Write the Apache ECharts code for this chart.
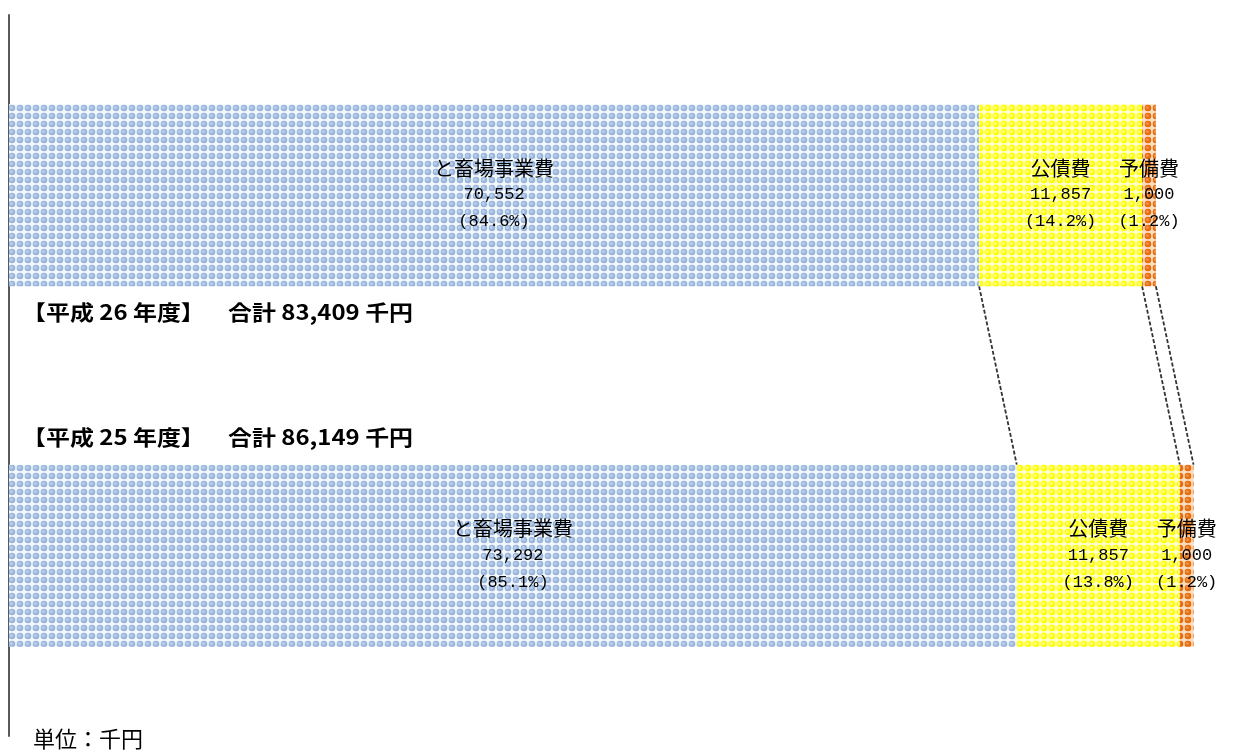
<!DOCTYPE html>
<html>
<head>
<meta charset="utf-8">
<script src="https://cdn.jsdelivr.net/npm/echarts@6/dist/echarts.min.js"></script>
<style>
html,body{margin:0;padding:0;background:#fff;}
#main{width:1241px;height:752px;}
</style>
</head>
<body>
<div id="main"></div>
<script>
// ---- data ----
var categories = ['平成 25 年度', '平成 26 年度'];
var seriesNames = ['と畜場事業費', '公債費', '予備費'];
var tochikuValues = [73292, 70552];
var kousaiValues = [11857, 11857];
var yobiValues = [1000, 1000];
var unitText = '単位：千円';

var allValues = [tochikuValues, kousaiValues, yobiValues];
var totals = categories.map(function (_, i) {
  return allValues.reduce(function (s, arr) { return s + arr[i]; }, 0);
});

function fmt(n) { return n.toString().replace(/\B(?=(\d{3})+(?!\d))/g, ','); }

function tile(bg, c1, c2) {
  var cv = document.createElement('canvas');
  cv.width = 8; cv.height = 8;
  var g = cv.getContext('2d');
  g.fillStyle = bg; g.fillRect(0, 0, 8, 8);
  g.fillStyle = c1; g.beginPath(); g.arc(4, 4, 3.3, 0, 2 * Math.PI); g.fill();
  g.fillStyle = c2; g.beginPath(); g.arc(3.4, 3.4, 1.5, 0, 2 * Math.PI); g.fill();
  return cv;
}
var patterns = [
  { image: tile('#f3f7fc', '#9ab6dc', '#bcd0ea'), repeat: 'repeat' },
  { image: tile('#ffffc8', '#ffff00', '#ffff80'), repeat: 'repeat' },
  { image: tile('#fcdcc0', '#e46c0a', '#f0924a'), repeat: 'repeat' }
];

var BAR_W = 182;
var cjkFont = "'Noto Sans CJK JP', sans-serif";
var numFont = "'Liberation Mono', monospace";

var barSeries = allValues.map(function (vals, si) {
  return {
    type: 'bar',
    name: seriesNames[si],
    stack: 'total',
    barWidth: BAR_W,
    data: vals,
    itemStyle: { color: patterns[si] },
    label: {
      show: true,
      position: 'inside',
      color: '#000',
      textBorderWidth: 0,
      align: 'center',
      formatter: function (p) {
        var pct = (p.value / totals[p.dataIndex] * 100).toFixed(1);
        return '{n|' + p.seriesName + '}\n{v|' + fmt(p.value) + '}\n{v|(' + pct + '%)}';
      },
      rich: {
        n: { fontFamily: cjkFont, fontSize: 20, lineHeight: 26, color: '#000', align: 'center' },
        v: { fontFamily: numFont, fontSize: 17, lineHeight: 27, color: '#000', align: 'center' }
      }
    }
  };
});

// cumulative boundaries for connecting lines: [top bar (H26), bottom bar (H25)]
var lineData = [];
var c25 = 0, c26 = 0;
allValues.forEach(function (arr) {
  c25 += arr[0]; c26 += arr[1];
  lineData.push([c26, c25, 0]);
});

var connectSeries = {
  type: 'custom',
  encode: { x: [0, 1], y: 2 },
  data: lineData,
  silent: true,
  z: 1,
  renderItem: function (params, api) {
    var pTop = api.coord([api.value(0), 1]);
    var pBot = api.coord([api.value(1), 0]);
    return {
      type: 'line',
      shape: { x1: pTop[0], y1: pTop[1] + BAR_W / 2, x2: pBot[0], y2: pBot[1] - BAR_W / 2 },
      style: { stroke: '#333', lineWidth: 1.8, lineDash: [4, 2] }
    };
  }
};

var titleFont = 'bold 21px ' + cjkFont;
var chart = echarts.init(document.getElementById('main'), null, { renderer: 'canvas' });
chart.setOption({
  animation: false,
  grid: { left: 9, top: 15, bottom: 16, right: 0, containLabel: false },
  xAxis: { type: 'value', min: 0, max: 89600, show: false },
  yAxis: {
    type: 'category',
    data: categories,
    axisLine: { show: true, lineStyle: { color: '#595959', width: 2 } },
    axisTick: { show: false },
    axisLabel: { show: false },
    splitLine: { show: false }
  },
  series: barSeries.concat([connectSeries]),
  graphic: [
    { type: 'text', x: 22, y: 302, scaleX: 1.14, style: { text: '【' + categories[1] + '】', font: titleFont, fill: '#000' } },
    { type: 'text', x: 228, y: 302, scaleX: 1.14, style: { text: '合計 ' + fmt(totals[1]) + ' 千円', font: titleFont, fill: '#000' } },
    { type: 'text', x: 22, y: 427, scaleX: 1.14, style: { text: '【' + categories[0] + '】', font: titleFont, fill: '#000' } },
    { type: 'text', x: 228, y: 427, scaleX: 1.14, style: { text: '合計 ' + fmt(totals[0]) + ' 千円', font: titleFont, fill: '#000' } },
    { type: 'text', x: 33, y: 728, style: { text: unitText, font: '22px ' + cjkFont, fill: '#000' } }
  ]
});
</script>
</body>
</html>
